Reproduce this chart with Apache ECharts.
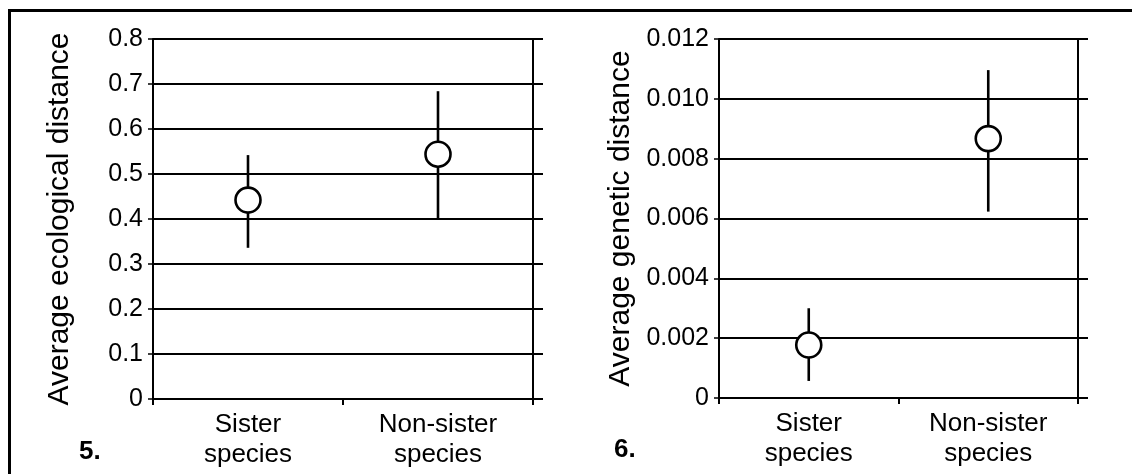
<!DOCTYPE html>
<html>
<head>
<meta charset="utf-8">
<script src="https://cdn.jsdelivr.net/npm/echarts@6/dist/echarts.min.js"></script>
<style>
html, body { margin: 0; padding: 0; background: #fff; }
#container { width: 1132px; height: 474px; }
</style>
</head>
<body>
<div id="container"></div>
<script>
let categories = ['Sister\nspecies', 'Non-sister\nspecies'];
// panel 5: ecological distance
let ecoMean = [0.442, 0.544];
let ecoLow = [0.336, 0.399];
let ecoHigh = [0.542, 0.684];
let ecoTickLabels = ['0', '0.1', '0.2', '0.3', '0.4', '0.5', '0.6', '0.7', '0.8'];
// panel 6: genetic distance
let genMean = [0.00177, 0.00867];
let genLow = [0.00057, 0.00623];
let genHigh = [0.0030, 0.01096];
let genTickLabels = ['0', '0.002', '0.004', '0.006', '0.008', '0.010', '0.012'];

let font = 'Liberation Sans, Arial, sans-serif';
let dom = document.getElementById('container');
let myChart = echarts.init(dom);

function errorBar(params, api) {
    let x = api.value(0);
    let lo = api.coord([x, api.value(1)]);
    let hi = api.coord([x, api.value(2)]);
    return {
        type: 'line',
        shape: { x1: lo[0], y1: lo[1], x2: hi[0], y2: hi[1] },
        style: { stroke: '#000', lineWidth: 2.6 }
    };
}

function leftAxis(gridIndex, max, interval, labels, name, gap) {
    return {
        type: 'value', gridIndex: gridIndex, position: 'left',
        min: 0, max: max, interval: interval,
        name: name, nameLocation: 'middle', nameGap: gap, nameRotate: 90,
        nameTextStyle: { color: '#000', fontSize: 30, fontFamily: font },
        axisLine: { show: true, lineStyle: { color: '#000', width: 2 } },
        axisTick: { show: true, length: 5, lineStyle: { color: '#000', width: 1.5 } },
        axisLabel: {
            color: '#000', fontSize: 25, fontFamily: font, margin: 10,
            formatter: function (value, index) { return labels[index]; }
        },
        splitLine: { show: true, lineStyle: { color: '#000', width: 2 } }
    };
}

function rightAxis(gridIndex, max, interval) {
    return {
        type: 'value', gridIndex: gridIndex, position: 'right',
        min: 0, max: max, interval: interval,
        axisLine: { show: true, lineStyle: { color: '#000', width: 2 } },
        axisTick: { show: true, length: 10, lineStyle: { color: '#000', width: 2 } },
        axisLabel: { show: false },
        splitLine: { show: false }
    };
}

function catAxis(gridIndex) {
    return {
        type: 'category', gridIndex: gridIndex, data: categories,
        boundaryGap: true,
        axisLine: { show: true, lineStyle: { color: '#000', width: 2 } },
        axisTick: { show: true, length: 6, lineStyle: { color: '#000', width: 2 } },
        axisLabel: { color: '#000', fontSize: 26, fontFamily: font, margin: 11, lineHeight: 30 },
        splitLine: { show: false }
    };
}

let option = {
    animation: false,
    grid: [
        { left: 153, top: 39, width: 380, height: 360 },
        { left: 719, top: 39, width: 359, height: 359 }
    ],
    xAxis: [catAxis(0), catAxis(1)],
    yAxis: [
        leftAxis(0, 0.8, 0.1, ecoTickLabels, 'Average ecological distance', 78),
        rightAxis(0, 0.8, 0.1),
        leftAxis(1, 0.012, 0.002, genTickLabels, 'Average genetic distance', 83),
        rightAxis(1, 0.012, 0.002)
    ],
    graphic: [
        {
            type: 'rect', left: 7, top: 8, z: 100,
            shape: { width: 1200, height: 600 },
            style: { fill: 'none', stroke: '#000', lineWidth: 3 }
        },
        {
            type: 'text', left: 79, top: 439,
            style: { text: '5.', fill: '#000', font: 'bold 26px ' + font }
        },
        {
            type: 'text', left: 614, top: 437,
            style: { text: '6.', fill: '#000', font: 'bold 26px ' + font }
        }
    ],
    series: [
        {
            type: 'custom', xAxisIndex: 0, yAxisIndex: 0, renderItem: errorBar, z: 2,
            data: categories.map((c, i) => [i, ecoLow[i], ecoHigh[i]])
        },
        {
            type: 'scatter', xAxisIndex: 0, yAxisIndex: 0, symbol: 'circle', symbolSize: 25, z: 3,
            itemStyle: { color: '#fff', borderColor: '#000', borderWidth: 2.6, opacity: 1 },
            emphasis: { disabled: true },
            data: categories.map((c, i) => [i, ecoMean[i]])
        },
        {
            type: 'custom', xAxisIndex: 1, yAxisIndex: 2, renderItem: errorBar, z: 2,
            data: categories.map((c, i) => [i, genLow[i], genHigh[i]])
        },
        {
            type: 'scatter', xAxisIndex: 1, yAxisIndex: 2, symbol: 'circle', symbolSize: 25, z: 3,
            itemStyle: { color: '#fff', borderColor: '#000', borderWidth: 2.6, opacity: 1 },
            emphasis: { disabled: true },
            data: categories.map((c, i) => [i, genMean[i]])
        }
    ]
};
if (option && typeof option === 'object') {
    myChart.setOption(option, true);
}
</script>
</body>
</html>
